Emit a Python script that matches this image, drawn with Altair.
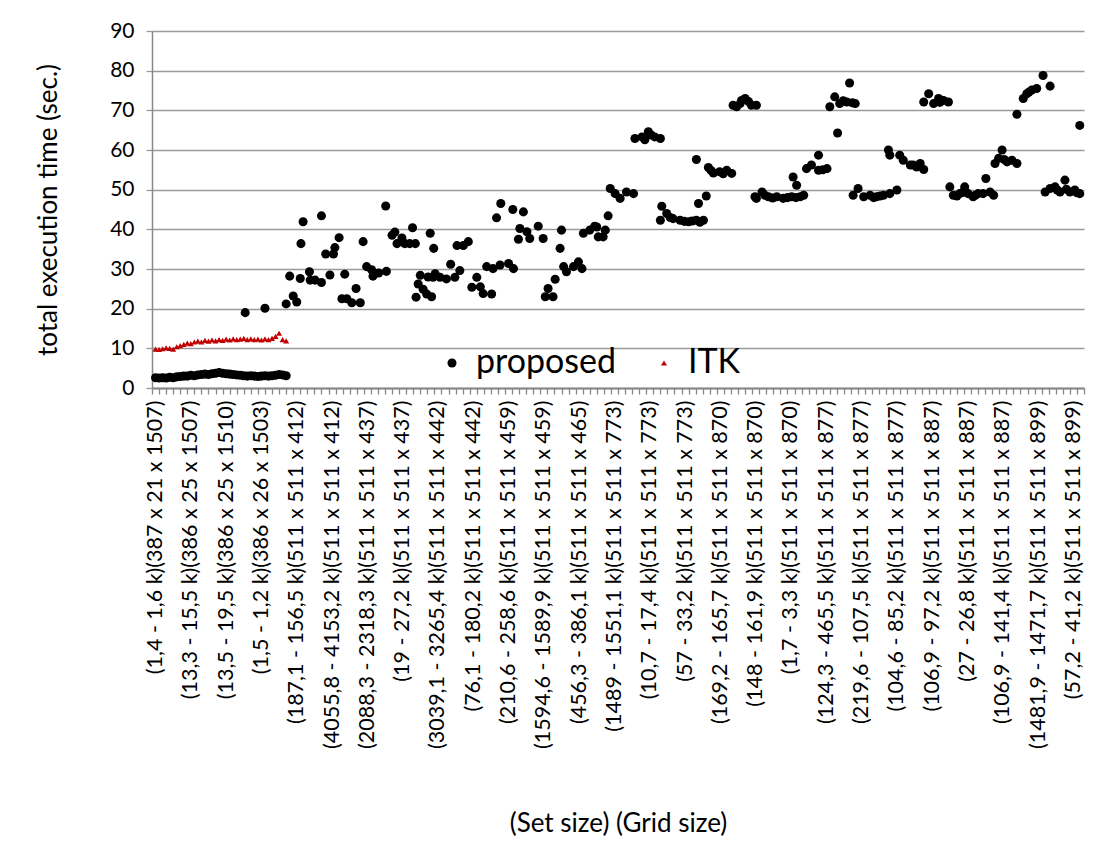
import json
import altair as alt
import pandas as pd

# ---- tick labels (one every 5 categories) ----
labels = [
    "(1,4 - 1,6 k)(387 x 21 x 1507)",
    "(13,3 - 15,5 k)(386 x 25 x 1507)",
    "(13,5 - 19,5 k)(386 x 25 x 1510)",
    "(1,5 - 1,2 k)(386 x 26 x 1503)",
    "(187,1 - 156,5 k)(511 x 511 x 412)",
    "(4055,8 - 4153,2 k)(511 x 511 x 412)",
    "(2088,3 - 2318,3 k)(511 x 511 x 437)",
    "(19 - 27,2 k)(511 x 511 x 437)",
    "(3039,1 - 3265,4 k)(511 x 511 x 442)",
    "(76,1 - 180,2 k)(511 x 511 x 442)",
    "(210,6 - 258,6 k)(511 x 511 x 459)",
    "(1594,6 - 1589,9 k)(511 x 511 x 459)",
    "(456,3 - 386,1 k)(511 x 511 x 465)",
    "(1489 - 1551,1 k)(511 x 511 x 773)",
    "(10,7 - 17,4 k)(511 x 511 x 773)",
    "(57 - 33,2 k)(511 x 511 x 773)",
    "(169,2 - 165,7 k)(511 x 511 x 870)",
    "(148 - 161,9 k)(511 x 511 x 870)",
    "(1,7 - 3,3 k)(511 x 511 x 870)",
    "(124,3 - 465,5 k)(511 x 511 x 877)",
    "(219,6 - 107,5 k)(511 x 511 x 877)",
    "(104,6 - 85,2 k)(511 x 511 x 877)",
    "(106,9 - 97,2 k)(511 x 511 x 887)",
    "(27 - 26,8 k)(511 x 511 x 887)",
    "(106,9 - 141,4 k)(511 x 511 x 887)",
    "(1481,9 - 1471,7 k)(511 x 511 x 899)",
    "(57,2 - 41,2 k)(511 x 511 x 899)",
]
n_categories = 132

# ---- proposed: category position (index) and time (sec.) ----
proposed_idx = [
    0, 0.5, 1, 1.5, 2, 2.5, 3, 3.5, 4, 4.5, 5, 5.5, 6, 6.5, 7, 7.5, 8, 8.5, 9, 9.5,
    10, 10.5, 11, 11.5, 12, 12.5, 13, 13.5, 14, 14.5, 15, 15.5, 16, 16.5, 17, 17.5, 18, 18.5,
    12.7, 15.5, 18.5,
    19.5, 20.0, 19.0, 20.6, 20.9, 20.5, 21.8, 21.9, 22.6, 23.5, 23.5, 24.1, 25.2, 25.4, 26.0,
    24.7, 26.8, 26.4, 27.1, 27.8, 28.4, 29.0, 29.4, 29.9, 30.6, 30.8, 31.6, 32.7, 32.6, 33.5,
    33.9, 34.2, 34.9, 35.3, 36.0, 36.8, 36.4, 36.9, 37.2, 37.9, 38.4, 37.5, 38.6, 39.6, 38.9, 39.4,
    39.1, 39.3, 40.3, 41.2, 41.8, 42.4, 43.1, 42.7, 43.6, 44.3, 44.8, 45.5, 46.0, 46.4, 47.6,
    46.9, 47.8, 48.8, 50.0, 50.7, 48.3, 48.9, 50.6, 52.1, 51.6, 51.4, 52.6, 53.0, 54.2, 54.9,
    55.2, 55.6, 56.6, 56.3, 57.3, 57.5, 57.8, 58.2, 59.2, 59.9, 60.4, 60.6, 61.5, 62.2, 62.7,
    62.5, 63.4, 63.7, 64.1, 64.4, 65.1, 65.8, 66.7, 67.7, 67.9, 68.9, 69.8, 70.7, 71.5, 69.3, 70.2,
    71.7, 71.5, 72.4, 73.3, 74.3, 75.5, 76.6, 77.6, 72.9, 74.9, 76.0, 77.1, 76.9, 78.0, 76.6,
    78.3, 79.0, 79.9, 80.9, 81.6, 78.7, 80.4, 81.8, 82.8, 83.5, 84.4, 85.1, 83.0, 84.0, 82.3, 85.1,
    84.9, 85.9, 86.8, 88.0, 88.9, 90.1, 91.3, 91.8, 86.3, 87.4, 89.5, 90.7, 90.3, 90.8,
    92.2, 92.9, 93.9, 95.1, 94.5, 93.9, 95.5, 96.2, 96.9, 97.9, 99.1, 97.4, 98.7, 98.3, 96.6,
    98.8, 99.5, 100.3, 101.2, 102.1, 103.1, 104.0, 105.0, 101.7, 102.6, 103.8, 104.0, 105.4,
    105.9, 106.9, 107.8, 107.3, 108.3, 108.8,
    108.8, 109.5, 110.2, 110.9, 111.6, 112.3, 111.1,
    112.5, 113.0, 113.9, 114.6, 115.1, 115.8, 116.5, 117.2, 117.6, 118.2, 118.7, 113.5, 114.3, 116.1,
    118.9, 119.4, 119.9, 120.6, 121.3, 122.0, 120.2, 122.0, 122.9, 123.4, 124.1, 124.8, 125.7,
    126.7, 123.7, 126.0, 126.7, 127.4, 128.1, 128.8, 129.5, 130.2, 130.9, 127.7, 129.0, 130.5, 130.9,
]
proposed_time = [
    2.6, 2.5, 2.6, 2.5, 2.7, 2.6, 2.8, 2.9, 3.0, 3.0, 3.2, 3.1, 3.3, 3.4, 3.5, 3.4, 3.6, 3.7, 3.9, 3.7,
    3.6, 3.5, 3.4, 3.3, 3.2, 3.1, 3.0, 3.1, 3.0, 2.9, 3.0, 3.1, 3.0, 3.1, 3.2, 3.4, 3.3, 3.1,
    19.0, 20.1, 21.2,
    23.2, 21.7, 28.2, 36.4, 41.9, 27.6, 29.3, 27.2, 27.2, 26.6, 43.4, 33.8, 33.8, 35.4, 37.9,
    28.5, 28.7, 22.5, 22.5, 21.5, 25.1, 21.5, 36.9, 30.6, 29.8, 28.2, 29.0, 29.4, 45.9, 38.5,
    39.3, 36.4, 37.8, 36.4, 36.4, 36.4, 40.4, 22.9, 26.2, 24.9, 23.7, 28.4, 28.0, 28.8, 39.0, 35.2,
    23.0, 27.9, 27.9, 27.5, 31.2, 27.9, 29.6, 35.9, 35.9, 36.9, 25.4, 27.9, 25.5, 23.8, 23.7,
    30.6, 30.1, 31.0, 31.4, 30.1, 42.9, 46.5, 45.0, 44.4, 40.2, 37.5, 39.4, 37.7, 40.8, 37.7,
    23.0, 25.1, 27.4, 23.0, 35.2, 39.8, 30.6, 29.3, 30.6, 31.8, 30.1, 39.0, 39.8, 40.8, 38.1,
    40.6, 38.1, 39.8, 43.4, 50.3, 49.0, 47.8, 49.4, 49.0, 62.9, 63.3, 64.6, 63.3, 62.9, 62.6, 63.8,
    45.8, 42.3, 44.0, 42.7, 42.3, 41.9, 42.3, 42.3, 43.0, 42.0, 42.1, 41.8, 46.5, 48.4, 57.6,
    55.6, 54.2, 54.5, 54.9, 54.1, 54.8, 54.0, 71.3, 71.7, 73.0, 71.3, 71.3, 72.5, 72.2, 70.9, 47.8,
    48.2, 49.4, 48.2, 48.2, 47.8, 48.2, 48.2, 48.6, 48.6, 47.9, 48.0, 48.0, 53.2, 51.1,
    55.3, 56.2, 54.9, 55.3, 55.0, 58.7, 70.9, 73.4, 71.7, 72.1, 71.7, 72.4, 71.9, 76.9, 64.3,
    48.6, 50.3, 48.2, 48.6, 48.2, 48.6, 49.0, 49.9, 48.0, 48.4, 60.0, 58.7, 58.7,
    57.4, 56.2, 55.7, 56.2, 56.6, 55.1,
    72.1, 74.2, 71.7, 73.0, 72.5, 72.1, 72.0,
    50.7, 48.6, 49.0, 50.7, 49.0, 48.2, 49.0, 49.0, 52.8, 49.4, 48.6, 48.4, 49.3, 48.6,
    56.6, 57.9, 60.0, 57.0, 57.4, 56.6, 57.6, 69.0, 73.0, 74.2, 75.1, 75.5, 78.8,
    76.1, 74.6, 49.4, 50.3, 50.7, 49.4, 52.4, 49.4, 49.9, 49.0, 49.9, 50.1, 49.2, 66.2,
]

# ---- ITK: category position and time (sec.) ----
itk_idx = [
    0, 0.5, 1, 1.5, 2, 2.5, 3, 3.5, 4, 4.5, 5, 5.5, 6, 6.5, 7, 7.5, 8, 8.5, 9, 9.5,
    10, 10.5, 11, 11.5, 12, 12.5, 13, 13.5, 14, 14.5, 15, 15.5, 16, 16.5, 17, 17.5, 18, 18.5,
]
itk_time = [
    9.8, 9.7, 9.9, 10.1, 10.0, 9.8, 10.4, 10.7, 11.0, 11.3, 11.2, 11.6, 11.8, 11.6, 12.0, 11.8,
    12.1, 11.9, 12.2, 12.0, 12.3, 12.1, 12.4, 12.2, 12.3, 12.5, 12.2, 12.4, 12.2, 12.3, 12.1,
    12.4, 12.2, 12.5, 13.0, 13.8, 12.2, 11.9,
]

df = pd.concat([
    pd.DataFrame({"idx": proposed_idx, "time": proposed_time, "series": "proposed"}),
    pd.DataFrame({"idx": itk_idx, "time": itk_time, "series": "ITK"}),
], ignore_index=True)

label_expr = (
    f"(datum.value % 5 == 0 && datum.value / 5 < {len(labels)}) ? "
    f"{json.dumps(labels)}[datum.value / 5] : ''"
)

FONT = "Lato"

chart = (
    alt.Chart(df)
    .transform_calculate(pos="datum.idx + 0.5")
    .mark_point(filled=True, opacity=1, strokeWidth=0)
    .encode(
        x=alt.X(
            "pos:Q",
            scale=alt.Scale(domain=[0, n_categories], nice=False, zero=False),
            axis=alt.Axis(
                values=list(range(0, n_categories + 1)),
                labelExpr=label_expr,
                labelAngle=-90,
                labelOffset=3.5,
                labelOverlap=False,
                labelFlush=False,
                labelBound=False,
                labelLimit=0,
                labelFont=FONT,
                labelFontSize=21.5,
                labelColor="#000000",
                labelPadding=6,
                grid=False,
                tickSize=6,
                tickWidth=1.3,
                tickColor="#888888",
                domainColor="#888888",
                domainWidth=1.8,
                title="(Set size) (Grid size)",
                titleFont=FONT,
                titleFontSize=26,
                titleFontWeight="normal",
                titleColor="#000000",
                titleBaseline="middle",
                titleX=466,
                titleY=435,
            ),
        ),
        y=alt.Y(
            "time:Q",
            scale=alt.Scale(domain=[0, 90], nice=False),
            axis=alt.Axis(
                values=list(range(0, 91, 10)),
                labelFont=FONT,
                labelFontSize=21,
                labelColor="#000000",
                labelPadding=12,
                grid=True,
                gridColor="#9a9a9a",
                gridWidth=1.3,
                tickSize=6,
                tickColor="#9a9a9a",
                tickWidth=1.3,
                domainColor="#888888",
                domainWidth=1.5,
                title="total execution time (sec.)",
                titleFont=FONT,
                titleFontSize=26,
                titleFontWeight="normal",
                titleColor="#000000",
                titleBaseline="middle",
                titleX=-104,
                titleY=178.5,
            ),
        ),
        color=alt.Color(
            "series:N",
            scale=alt.Scale(domain=["proposed", "ITK"], range=["#000000", "#C00000"]),
            legend=alt.Legend(
                orient="none", legendX=283, legendY=315, direction="horizontal",
                title=None, labelFont=FONT, labelFontSize=34, labelColor="#000000",
                labelOffset=7, columnPadding=30, padding=0, symbolStrokeWidth=0,
            ),
        ),
        shape=alt.Shape(
            "series:N",
            scale=alt.Scale(domain=["proposed", "ITK"], range=["circle", "triangle-up"]),
        ),
        size=alt.Size(
            "series:N",
            scale=alt.Scale(domain=["proposed", "ITK"], range=[82, 36]),
        ),
    )
    .properties(
        width=932,
        height=357,
        autosize=alt.AutoSizeParams(type="none"),
        padding={"left": 152, "top": 31, "right": 21, "bottom": 453},
        background="#ffffff",
    )
    .configure_view(stroke=None)
)

chart.save("out.html", embed_options={"renderer": "svg", "actions": False})
